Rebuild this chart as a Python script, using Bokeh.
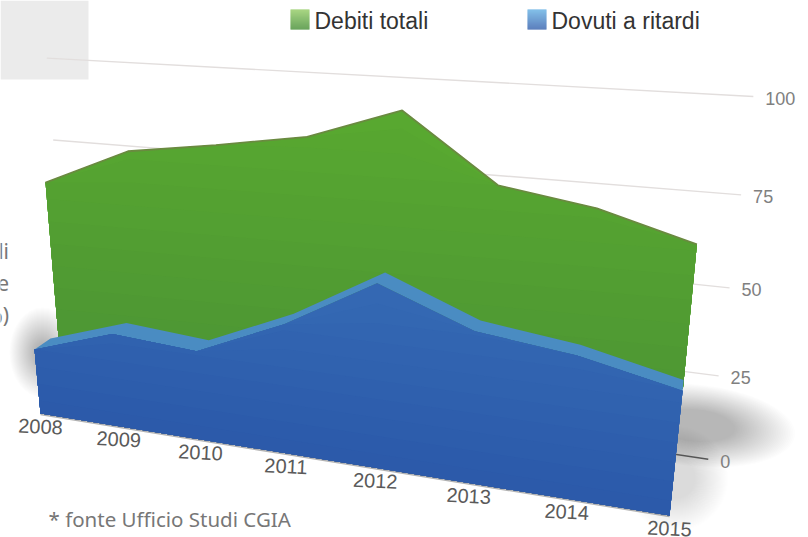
import numpy as np
from bokeh.plotting import figure
from bokeh.models import Range1d
from bokeh.core.properties import value
from bokeh.embed import file_html
from bokeh.resources import INLINE

years = ["2008", "2009", "2010", "2011", "2012", "2013", "2014", "2015"]
debiti_totali = [64, 75, 78.5, 82.5, 91.3, 72.8, 68.5, 60.8]
dovuti_ritardi = [19.3, 27.1, 25.5, 36.1, 49.9, 40.7, 37.8, 32.5]
y_ticks = [0, 25, 50, 75, 100]
legend_labels = ["Debiti totali", "Dovuti a ritardi"]
footnote = "* fonte Ufficio Studi CGIA"
cut_text = ["li", "e", "%)"]

W, H = 808, 537


def homography(corners):
    src = [(0, 0), (7, 0), (7, 100), (0, 100)]
    A, b = [], []
    for (u, v), (x, y) in zip(src, corners):
        A.append([u, v, 1, 0, 0, 0, -u * x, -v * x]); b.append(x)
        A.append([0, 0, 0, u, v, 1, -u * y, -v * y]); b.append(y)
    s = np.linalg.solve(np.array(A, float), np.array(b, float))
    M = np.append(s, 1).reshape(3, 3)

    def project(u, v):
        u, v = np.asarray(u, float), np.asarray(v, float)
        w = M[2, 0] * u + M[2, 1] * v + 1
        return (M[0, 0] * u + M[0, 1] * v + M[0, 2]) / w, (M[1, 0] * u + M[1, 1] * v + M[1, 2]) / w
    return project


wall = homography([(60, 362), (676, 454), (717, 94), (35, 57)])
back = homography([(62, 385), (676, 454), (711, 94), (34.5, 57)])
front = homography([(40, 413), (669, 515), (713, 96), (6, 51)])
mid = homography([(56, 402), (670, 504), (714, 85), (22, 40)])

p = figure(width=W, height=H, x_range=Range1d(0, W), y_range=Range1d(H, 0),
           output_backend="svg", toolbar_location=None, min_border=0,
           outline_line_color=None, background_fill_color="white")
p.axis.visible = False
p.grid.visible = False

# panel top left
p.quad(left=0, right=88, top=0, bottom=79, fill_color="#ebebeb", line_color=None)

# soft shadows
N = 36
for k in range(N):
    t = k / (N - 1)
    p.ellipse(x=695, y=425, width=200 - 120 * t, height=82 - 50 * t, angle=-0.1,
              fill_color="#444444", fill_alpha=0.010, line_color=None)
    p.ellipse(x=675, y=478, width=105 - 65 * t, height=105 - 65 * t,
              fill_color="#444444", fill_alpha=0.008, line_color=None)
    p.ellipse(x=42, y=352, width=66 - 50 * t, height=90 - 70 * t,
              fill_color="#444444", fill_alpha=0.012, line_color=None)

# gridlines and ticks on the back wall
us = np.array([0.14, 7.3])
for tick in y_ticks:
    xs, ys = wall(us, np.full(2, tick))
    color = "#555555" if tick == 0 else "#e2dedd"
    p.line(xs, ys, line_color=color, line_width=1.4)
    lx, ly = wall(7.3, tick)
    p.text([float(lx) + 12], [float(ly) + 2], text=[str(tick)], text_font=value("Liberation Sans"),
           text_font_size="18px", text_color="#808080", text_align="left", text_baseline="middle")

idx = np.arange(len(years))

# green area: vertical shading by stacked caps (its foot stays hidden behind the blue block)
gt = np.array(debiti_totali, float)
foot = np.linspace(5, 20, len(years))
caps = np.linspace(100, 25, 12)
for c, f in zip(caps, np.linspace(0, 1, 12)):
    v = np.minimum(gt, c)
    xs, ys = back(np.r_[idx, idx[::-1]], np.r_[v, foot[::-1]])
    col = "#%02x%02x%02x" % (int(90 - 12 * f), int(170 - 18 * f), int(48 + 4 * f))
    p.patch(xs, ys, fill_color=col, line_color=None)
xs, ys = back(idx, gt)
p.line(xs, ys, line_color="#6a8a40", line_width=1.8)

# blue band (top of the front block)
bl = np.array(dovuti_ritardi, float)
fx, fy = front(idx, bl)
mx, my = mid(idx, bl)
p.patch(np.r_[fx, mx[::-1]], np.r_[fy, my[::-1]], fill_color="#4a8cc2", line_color=None)

# blue front face
caps_b = np.linspace(60, 4, 12)
for c, f in zip(caps_b, np.linspace(0, 1, 12)):
    v = np.minimum(bl, c)
    xs, ys = front(np.r_[idx, idx[::-1]], np.r_[v, np.zeros(8)])
    col = "#%02x%02x%02x" % (int(54 - 10 * f), int(108 - 18 * f), int(182 - 12 * f))
    p.patch(xs, ys, fill_color=col, line_color=None)

# year labels
lx, ly = front(idx, np.zeros(8))
p.line(lx, ly + 1, line_color="#666666", line_alpha=0.5, line_width=1.5)
p.text(lx, ly + 13, text=years, angle=-0.05, text_font=value("Liberation Sans"), text_font_size="20px",
       text_color="#5a5a5a", text_align="center", text_baseline="middle")

# legend
for x0, top_c, bot_c, label in [(290, (140, 200, 90), (58, 135, 40), legend_labels[0]),
                                (527, (90, 170, 225), (40, 88, 168), legend_labels[1])]:
    n = 20
    for j in range(n):
        f = j / (n - 1)
        c = tuple(int(a + (b - a) * f) for a, b in zip(top_c, bot_c))
        p.quad(left=x0, right=x0 + 19, top=9 + j, bottom=10 + j, fill_color="#%02x%02x%02x" % c, line_color=None)
    p.text([x0 + 24], [20], text=[label], text_font=value("Liberation Sans"), text_font_size="23px",
           text_color="#333333", text_align="left", text_baseline="middle")

# footnote and cut-off texts
p.text([48], [518], text=[footnote], text_font=value("Noto Sans"), text_font_size="20.5px",
       text_color="#777777", text_align="left", text_baseline="middle")
for t, y in zip(cut_text, [250, 282, 314]):
    p.text([8.5], [y], text=[t], text_font=value("Noto Sans"), text_font_size="21px",
           text_color="#777777", text_align="right", text_baseline="middle")

open("out.html", "w").write(file_html(p, INLINE))
